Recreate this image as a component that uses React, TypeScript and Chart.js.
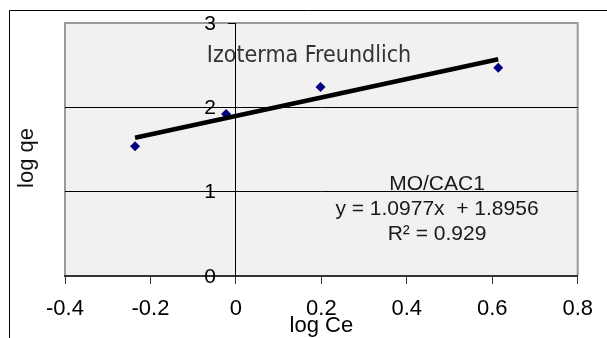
import React, { useEffect, useRef } from "react";
import { Chart, registerables } from "chart.js";

Chart.register(...registerables);

// ---- data ----
const logCe = [-0.236, -0.023, 0.198, 0.614];
const logQe = [1.54, 1.92, 2.24, 2.47];
const trendX = [-0.236, 0.614];
const trendY = [1.64, 2.57];
const xTickValues = [-0.4, -0.2, 0, 0.2, 0.4, 0.6, 0.8];
const yTickValues = [0, 1, 2, 3];
const yGridValues = [1, 2];

const chartTitle = "Izoterma Freundlich";
const xTitle = "log Ce";
const yTitle = "log qe";
const seriesName = "MO/CAC1";
const equationText = "y = 1.0977x  + 1.8956";
const r2Text = "R² = 0.929";

const SANS = '"Liberation Sans", Arial, sans-serif';

const framePlugin = {
  id: "frame",
  beforeDraw(chart: any) {
    const { ctx, chartArea, width, height } = chart;
    ctx.save();
    ctx.fillStyle = "#ffffff";
    ctx.fillRect(0, 0, width, height);
    // outer frame (top and left edges visible)
    ctx.strokeStyle = "#000";
    ctx.lineWidth = 1;
    ctx.beginPath();
    ctx.moveTo(9.5, height);
    ctx.lineTo(9.5, 10.5);
    ctx.lineTo(width, 10.5);
    ctx.stroke();
    // plot area
    const { left, top, right, bottom } = chartArea;
    ctx.fillStyle = "#f1f1f1";
    ctx.fillRect(left, top, right - left, bottom - top);
    ctx.strokeStyle = "#9a9a9a";
    ctx.lineWidth = 2;
    ctx.beginPath();
    ctx.moveTo(left, bottom);
    ctx.lineTo(left, top);
    ctx.lineTo(right, top);
    ctx.lineTo(right, bottom);
    ctx.stroke();
    ctx.restore();
  },
};

// y tick labels sit 20px left of the y axis (which crosses at x = 0)
const yLabelPlugin = {
  id: "yLabels",
  afterDraw(chart: any) {
    const { ctx } = chart;
    const xs = chart.scales.x;
    const ys = chart.scales.y;
    const axisX = xs.getPixelForValue(0);
    ctx.save();
    ctx.font = "21px " + SANS;
    ctx.fillStyle = "#000";
    ctx.textAlign = "right";
    ctx.textBaseline = "middle";
    ys.ticks.forEach((t: any) => {
      ctx.fillText(String(t.value), axisX - 20, ys.getPixelForValue(t.value) + 1);
    });
    ctx.restore();
  },
};

const textPlugin = {
  id: "texts",
  afterDraw(chart: any) {
    const { ctx } = chart;
    ctx.save();
    ctx.textAlign = "center";
    ctx.textBaseline = "alphabetic";
    ctx.fillStyle = "#333";
    ctx.font = '23px "DejaVu Sans Condensed", "DejaVu Sans", sans-serif';
    ctx.fillText(chartTitle, 309, 62);

    ctx.fillStyle = "#1a1a1a";
    ctx.font = "21px " + SANS;
    ctx.fillText(seriesName, 437, 190);
    ctx.fillText(equationText, 437, 215);
    ctx.fillText(r2Text, 437, 240);

    ctx.translate(27, 158);
    ctx.rotate(-Math.PI / 2);
    ctx.textBaseline = "middle";
    ctx.font = "22px " + SANS;
    ctx.fillStyle = "#111";
    ctx.fillText(yTitle, 0, 0);
    ctx.restore();
  },
};

export default function App() {
  const ref = useRef<HTMLCanvasElement | null>(null);

  useEffect(() => {
    if (!ref.current) return;
    const chart = new Chart(ref.current, {
      type: "scatter",
      data: {
        datasets: [
          {
            label: "trend",
            data: trendX.map((x, i) => ({ x, y: trendY[i] })),
            showLine: true,
            borderColor: "#000",
            borderWidth: 4.5,
            pointRadius: 0,
            borderCapStyle: "butt",
          } as any,
          {
            label: seriesName,
            data: logCe.map((x, i) => ({ x, y: logQe[i] })),
            pointStyle: "rectRot",
            pointRadius: 5,
            backgroundColor: "#000080",
            borderColor: "#000080",
            borderWidth: 0,
          } as any,
        ],
      },
      options: {
        responsive: false,
        animation: false,
        devicePixelRatio: 1,
        layout: { padding: { left: 65, right: 29, top: 23, bottom: 1 } },
        plugins: {
          legend: { display: false },
          tooltip: { enabled: false },
          title: { display: false },
        },
        scales: {
          x: {
            type: "linear",
            position: "bottom",
            min: -0.4,
            max: 0.8,
            afterBuildTicks: (scale: any) => {
              scale.ticks = xTickValues.map((v) => ({ value: v }));
            },
            ticks: {
              autoSkip: false,
              maxRotation: 0,
              padding: 14,
              color: "#000",
              font: { family: SANS, size: 22, lineHeight: 1 },
              callback: (v: any) => String(Math.round(Number(v) * 10) / 10),
            },
            grid: {
              drawOnChartArea: false,
              tickLength: 8,
              color: "#333",
              lineWidth: 1,
            },
            border: { color: "#333", width: 2 },
            title: {
              display: true,
              text: xTitle,
              color: "#000",
              font: { family: SANS, size: 22, lineHeight: 1 },
              padding: { top: -19, bottom: 0 },
            },
          },
          y: {
            type: "linear",
            position: { x: 0 } as any,
            min: 0,
            max: 3,
            afterBuildTicks: (scale: any) => {
              scale.ticks = yTickValues.map((v) => ({ value: v }));
            },
            ticks: { display: false },
            grid: {
              color: (c: any) =>
                c.tick && yGridValues.includes(c.tick.value) ? "#000" : "rgba(0,0,0,0)",
              tickColor: "#000",
              tickLength: 7,
              lineWidth: 1,
            },
            border: { color: "#000", width: 1 },
          },
        },
      },
      plugins: [framePlugin, yLabelPlugin, textPlugin],
    } as any);
    return () => chart.destroy();
  }, []);

  return (
    <div style={{ position: "fixed", left: 0, top: 0, width: 607, height: 338, background: "#fff" }}>
      <canvas ref={ref} width={607} height={338} style={{ display: "block" }} />
    </div>
  );
}
